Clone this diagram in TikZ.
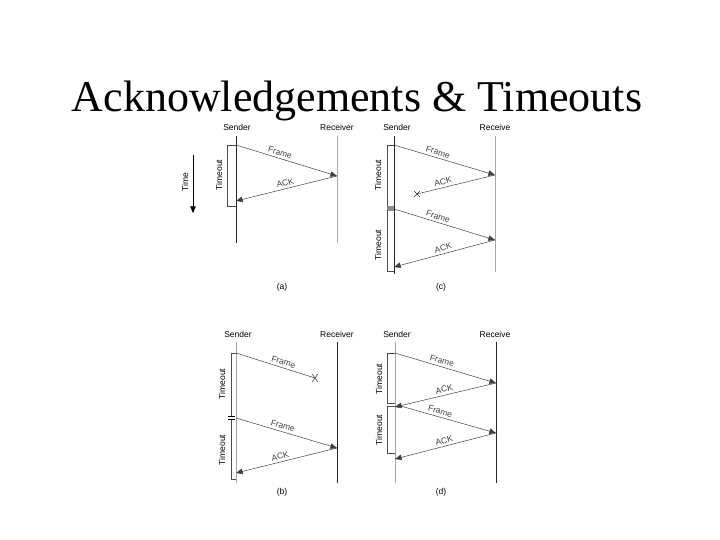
\documentclass[tikz,border=0pt]{standalone}
\usepackage{fontspec}
\setmainfont{Liberation Serif}
\setsansfont{Liberation Sans}
\usetikzlibrary{arrows}

\tikzset{
  lbl/.style={font=\sffamily\fontsize{8.5}{9}\selectfont, inner sep=1pt},
  tag/.style={lbl, sloped, above=1.5pt},
  dark/.style={line width=0.6pt, black!85},
  light/.style={line width=0.6pt, black!35},
  msg/.style={-triangle 45, line width=0.5pt, black!75},
  bracket/.style={line width=0.5pt, black!70},
  lost/.style={line width=0.5pt, black!80},
}

\begin{document}
\begin{tikzpicture}[x=1pt, y=-1pt, >=stealth]
\useasboundingbox (0,0) rectangle (720,540);
\node[font=\fontsize{44}{48}\selectfont, anchor=base] (title) at (357,112) {Acknowledgements \& Timeouts};

% (a)
\node[lbl] (sa) at (237,127) {Sender};
\node[lbl] (ra) at (337,127) {Receiver};
\draw[dark] (236,136) -- (236,243);
\draw[light] (337,136) -- (337,243);
\coordinate (a1) at (236,145); \coordinate (a2) at (337,176); \coordinate (a3) at (236,201);
\draw[msg] (a1) -- node[tag, pos=.42] {Frame} (a2);
\draw[msg] (a2) -- node[tag, pos=.5] {ACK} (a3);
\draw[bracket] (236,145) -- (227,145) -- (227,206) -- (236,206);
\node[lbl, rotate=90] (ta) at (219,175) {Timeout};
\coordinate (t0) at (193,155); \coordinate (t1) at (193,213);
\draw[-triangle 45, line width=0.5pt] (t0) -- (t1);
\node[lbl, rotate=90] (time) at (185,182) {Time};
\node[lbl] (capa) at (282,287) {(a)};

% (c)
\node[lbl] (sc) at (397,127) {Sender};
\node[lbl] (rc) at (495,127) {Receive};
\draw[dark] (394,136) -- (394,274);
\draw[light] (495,136) -- (495,272);
\coordinate (c1) at (394,145); \coordinate (c2) at (495,175); \coordinate (cx) at (417,194);
\coordinate (c3) at (394,209); \coordinate (c4) at (495,240); \coordinate (c5) at (394,267);
\draw[msg] (c1) -- node[tag, pos=.42] {Frame} (c2);
\draw[msg, -] (c2) -- node[tag, pos=.65] {ACK} (cx);
\draw[lost] (cx) +(-3,-3) -- +(3,3) +(-3,3) -- +(3,-3);
\draw[msg] (c3) -- node[tag, pos=.42] {Frame} (c4);
\draw[msg] (c4) -- node[tag, pos=.5] {ACK} (c5);
\draw[bracket] (394,145) -- (387,145) -- (387,207);
\fill[black!45] (387,206) rectangle (394,211);
\draw[bracket] (387,210) -- (387,271) -- (394,271);
\node[lbl, rotate=90] (tc1) at (378,175) {Timeout};
\node[lbl, rotate=90] (tc2) at (378,245) {Timeout};
\node[lbl] (capc) at (441,287) {(c)};

% (b)
\node[lbl] (sb) at (238,334) {Sender};
\node[lbl] (rb) at (337,334) {Receiver};
\draw[light] (236,342) -- (236,483);
\draw[dark] (337,342) -- (337,483);
\coordinate (b1) at (236,353); \coordinate (bx) at (315,378);
\coordinate (b2) at (236,418); \coordinate (b3) at (337,448); \coordinate (b4) at (236,473);
\draw[msg, -] (b1) -- node[tag, pos=.58] {Frame} (bx);
\draw[lost] (bx) +(-3,-4) -- +(3,4) +(-3,4) -- +(3,-4);
\draw[msg] (b2) -- node[tag, pos=.45] {Frame} (b3);
\draw[msg] (b3) -- node[tag, pos=.55] {ACK} (b4);
\draw[bracket] (236,353) -- (231,353) -- (231,416);
\draw[line width=0.6pt] (228,416) -- (235,416) (228,419.5) -- (235,419.5);
\draw[bracket] (231,420) -- (231,479) -- (236,479);
\node[lbl, rotate=90] (tb1) at (222,384) {Timeout};
\node[lbl, rotate=90] (tb2) at (222,450) {Timeout};
\node[lbl] (capb) at (282,492) {(b)};

% (d)
\node[lbl] (sd) at (397,334) {Sender};
\node[lbl] (rd) at (495,334) {Receive};
\draw[light] (395,342) -- (395,483);
\draw[dark] (496,342) -- (496,483);
\coordinate (d1) at (395,353); \coordinate (d2) at (496,383); \coordinate (d3) at (395,407);
\coordinate (d4) at (397,405); \coordinate (d5) at (496,433); \coordinate (d6) at (395,459);
\draw[msg] (d1) -- node[tag, pos=.45] {Frame} (d2);
\draw[msg] (d2) -- node[tag, pos=.5] {ACK} (d3);
\draw[msg] (d4) -- node[tag, pos=.42] {Frame} (d5);
\draw[msg] (d5) -- node[tag, pos=.5] {ACK} (d6);
\draw[bracket] (395,353) -- (387,353) -- (387,403) -- (395,403);
\draw[bracket] (395,406) -- (387,406) -- (387,453) -- (395,453);
\node[lbl, rotate=90] (td1) at (379,379) {Timeout};
\node[lbl, rotate=90] (td2) at (379,430) {Timeout};
\node[lbl] (capd) at (441,492) {(d)};
\end{tikzpicture}
\end{document}
